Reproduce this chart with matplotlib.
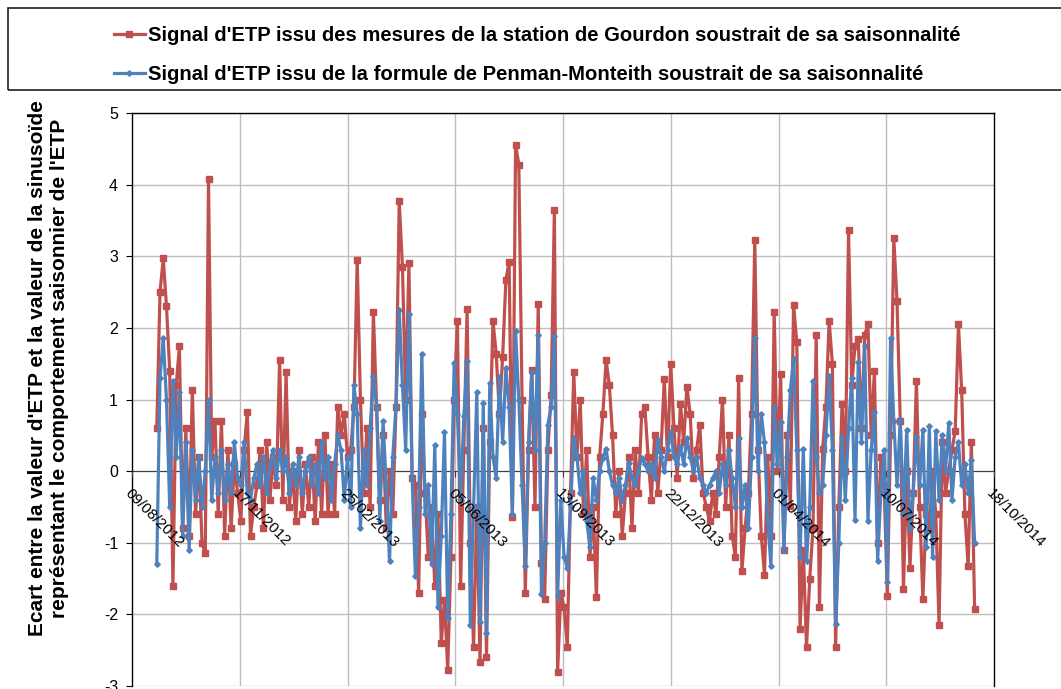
import matplotlib
matplotlib.use("Agg")
import matplotlib.pyplot as plt
from matplotlib.patches import Rectangle
import pandas as pd

# Daily ETP anomalies (seasonal sinusoid removed), sampled every 3 days
first_day = "2012-09-01"
step_days = 3

gourdon_station = [
    # 01/09/2012 -> 15/11/2012
    0.6, 2.5, 2.97, 2.3, 1.4, -1.6, 1.2, 1.74, -0.8, 0.6, -0.9, 1.13, -0.6,
    0.2, -1.0, -1.15, 4.08, 0.2, 0.7, -0.6, 0.7, -0.9, 0.3, -0.8, 0.1, -0.3,
    # 18/11/2012 -> 25/02/2013
    -0.7, 0.3, 0.82, -0.9, -0.5, -0.2, 0.3, -0.8, 0.4, -0.4, 0.2, -0.2, 1.55,
    -0.4, 1.38, -0.5, 0.0, -0.7, 0.3, -0.6, 0.1, -0.5, 0.2, -0.7, 0.4, -0.6,
    0.5, -0.6, 0.1, -0.6, 0.9, 0.5, 0.8, 0.2,
    # 28/02/2013 -> 04/06/2013
    0.3, 0.9, 2.95, 1.0, -0.3, 0.6, -0.5, 2.22, 0.9, -0.4, 0.5, -0.8, 0.0,
    -0.6, 0.9, 3.77, 2.85, 1.0, 2.9, -0.1, -0.2, -1.7, 0.8, -0.3, -1.2, -0.5,
    -1.6, -0.6, -2.4, -1.8, -2.77, -1.2, 1.0,
    # 07/06/2013 -> 11/09/2013
    2.1, -1.6, 0.3, 2.26, -1.0, -2.46, -0.5, -2.67, 0.6, -2.6, 0.4, 2.1, 1.64,
    0.8, 1.6, 2.67, 2.92, -0.64, 4.56, 4.28, 1.0, -1.7, 0.3, 1.41, -0.5, 2.33,
    -1.28, -1.78, 0.3, 1.06, 3.65, -2.8, -1.7,
    # 14/09/2013 -> 19/12/2013
    -1.9, -2.46, -0.3, 1.38, 0.2, 1.0, -0.6, 0.3, -1.2, -0.5, -1.76, 0.2, 0.8,
    1.55, 1.2, 0.5, -0.6, 0.0, -0.9, -0.3, 0.2, -0.8, 0.3, -0.3, 0.8, 0.89,
    0.2, -0.4, 0.5, -0.3, 0.3, 1.28, 0.2,
    # 22/12/2013 -> 28/03/2014
    1.5, 0.6, -0.1, 0.94, 0.4, 1.18, 0.8, -0.1, 0.3, 0.65, -0.3, -0.5, -0.7,
    -0.3, -0.6, 0.2, 1.0, -0.5, 0.5, -0.9, -1.2, 1.3, -1.4, -0.8, -0.3, 0.8,
    3.22, 0.3, -0.9, -1.45, 0.2, -0.9, 2.22,
    # 31/03/2014 -> 05/07/2014
    0.0, 1.35, -1.1, 0.5, -0.48, 2.32, 1.8, -2.2, -1.1, -2.46, -1.5, -0.8, 1.9,
    -1.9, 0.31, 0.9, 2.1, 1.5, -2.46, -0.5, 0.94, 0.0, 3.36, 1.2, 1.75, 1.85,
    0.6, 1.9, 2.05, 0.5, 1.4, -1.0, 0.2,
    # 08/07/2014 -> 30/09/2014
    -0.2, -1.74, 0.5, 3.26, 2.37, 0.7, -1.64, 0.0, -1.35, -0.3, 1.26, -0.5,
    -1.79, -0.6, -0.8, 0.0, -0.6, -2.15, 0.4, -0.3, 0.0, 0.3, 0.56, 2.05, 1.13,
    -0.6, -1.33, 0.41, -1.92,
]

penman_monteith = [
    # 01/09/2012 -> 15/11/2012
    -1.3, 1.3, 1.86, 1.0, -0.5, 1.26, 0.2, 1.1, -0.9, 0.4, -1.1, 0.3, -0.4,
    0.2, -0.5, 0.0, 1.0, -0.4, 0.2, -0.3, 0.3, -0.4, 0.1, -0.3, 0.4, -0.1,
    # 18/11/2012 -> 25/02/2013
    -0.2, 0.4, -0.3, -0.4, -0.1, 0.1, -0.2, 0.2, -0.3, 0.1, 0.3, -0.1, 0.3,
    0.0, 0.2, -0.3, 0.1, -0.2, 0.2, -0.3, 0.0, 0.2, -0.2, 0.1, -0.3, 0.4,
    -0.1, 0.2, -0.4, 0.1, 0.5, 0.3, -0.4, 0.2,
    # 28/02/2013 -> 04/06/2013
    -0.5, 1.2, 0.8, -0.8, 0.3, -0.2, 0.6, 1.33, 0.9, -0.7, 0.7, -0.2, -1.26,
    0.2, 0.9, 2.25, 1.2, 0.3, 2.2, -0.1, -1.47, -0.5, 1.64, -0.6, -0.2, -1.3,
    0.36, -1.9, -0.9, 0.54, -2.05, -0.6, 1.51,
    # 07/06/2013 -> 11/09/2013
    0.8, -0.4, 0.77, 1.54, -2.15, -0.5, 1.1, -2.1, 0.95, -2.26, 1.23, 0.2,
    -0.1, 1.31, 0.4, 1.44, 0.9, -0.6, 1.95, 1.0, -0.2, -1.33, 0.4, 1.38, 0.3,
    1.9, -1.72, -1.0, 0.65, 0.9, 1.88, -1.74, -0.41,
    # 14/09/2013 -> 19/12/2013
    -1.2, -1.35, -0.5, 0.46, 0.2, -0.3, 0.0, -0.7, -1.06, -0.1, -0.4, 0.0,
    0.19, 0.31, 0.0, -0.2, -0.3, -0.1, -0.4, -0.2, 0.12, -0.1, -0.2, 0.0, 0.19,
    0.1, 0.0, 0.1, -0.1, 0.43, 0.2, 0.0, 0.3,
    # 22/12/2013 -> 28/03/2014
    0.55, 0.2, 0.1, 0.34, 0.1, 0.46, 0.2, 0.0, 0.2, -0.1, -0.2, -0.3, -0.2,
    -0.1, 0.0, -0.3, 0.1, -0.2, 0.3, -0.1, -0.5, 0.46, -0.5, -0.2, -0.8, 0.2,
    1.86, 0.0, 0.8, 0.4, -0.7, -1.33, 0.9,
    # 31/03/2014 -> 05/07/2014
    0.1, 0.68, -1.1, 0.2, 1.13, 1.57, 0.3, -1.2, 0.31, -1.26, -0.5, 1.26, 0.2,
    -0.3, -0.2, 0.5, 1.33, 0.3, -2.13, -1.0, 0.48, -0.4, 0.6, 1.3, -0.68, 1.52,
    0.4, 1.74, -0.7, 0.3, 0.82, -1.26, -0.3,
    # 08/07/2014 -> 30/09/2014
    0.3, -1.55, 1.86, 0.7, -0.2, 0.72, -0.6, 0.58, -0.8, -0.3, 0.48, -0.2,
    0.58, -1.06, 0.63, -1.2, 0.56, -0.4, 0.5, 0.0, 0.67, -0.4, 0.2, 0.4, -0.2,
    0.1, -0.3, 0.15, -1.0,
]

series_labels = [
    "Signal d'ETP issu des mesures de la station de Gourdon soustrait de sa saisonnalité",
    "Signal d'ETP issu de la formule de Penman-Monteith soustrait de sa saisonnalité",
]

x_tick_labels = ["09/08/2012", "17/11/2012", "25/02/2013", "05/06/2013",
                 "13/09/2013", "22/12/2013", "01/04/2014", "10/07/2014",
                 "18/10/2014"]
y_ticks = [-3, -2, -1, 0, 1, 2, 3, 4, 5]

y_label = ("Ecart entre la valeur d'ETP et la valeur de la sinusoïde\n"
           "représentant le comportement saisonnier de l'ETP")

RED = "#C0504D"
BLUE = "#4F81BD"
GRID = "#BEBEBE"
FONT = "Liberation Sans"

W, H = 1061, 689
fig = plt.figure(figsize=(W / 100, H / 100), dpi=100)
ax = fig.add_axes([132 / W, 3 / H, 862 / W, 573 / H])

dates_red = pd.date_range(first_day, periods=len(gourdon_station), freq=f"{step_days}D")
dates_blue = pd.date_range(first_day, periods=len(penman_monteith), freq=f"{step_days}D")

l1, = ax.plot(dates_red, gourdon_station, color=RED, lw=2.3, marker="s",
              ms=3.8, mec=RED, mfc=RED, label=series_labels[0], zorder=3)
l2, = ax.plot(dates_blue, penman_monteith, color=BLUE, lw=2.3, marker="D",
              ms=2.8, mec=BLUE, mfc=BLUE, label=series_labels[1], zorder=4)

tick_dates = pd.to_datetime(x_tick_labels, format="%d/%m/%Y")
ax.set_xlim(tick_dates[0], tick_dates[-1])
ax.set_ylim(-3, 5)

# Horizontal axis crosses at zero (moving the spine resets the ticks,
# so it comes before any tick styling)
ax.spines["bottom"].set_position(("data", 0))
ax.spines["bottom"].set_color("#404040")
ax.spines["bottom"].set_zorder(2)
for side in ("left", "top", "right"):
    ax.spines[side].set_color("#000000")
    ax.spines[side].set_linewidth(1.0)

ax.tick_params(axis="x", direction="out", length=4, color="#404040", pad=7)
ax.tick_params(axis="y", direction="out", length=4, color="#000000", pad=6)

ax.set_xticks(tick_dates)
ax.set_xticklabels(x_tick_labels, fontsize=11, family=FONT, rotation=-45,
                   rotation_mode="anchor", ha="left", va="top")
ax.set_yticks(y_ticks)
ax.set_yticklabels([str(v) for v in y_ticks], fontsize=11.5, family=FONT)

# Gridlines behind the series, date labels drawn over them
ax.grid(True, axis="y", color=GRID, lw=1.0)
ax.yaxis.set_zorder(0.5)
for d in tick_dates[1:-1]:
    ax.axvline(d, color=GRID, lw=1.0, zorder=0.6)
ax.xaxis.set_zorder(5)

fig.text(49 / W, 1 - 368 / H, y_label, rotation=90, ha="center", va="center",
         fontsize=15, fontweight="bold", family=FONT, linespacing=1.2,
         multialignment="center")

# Legend box across the top
fig.patches.append(Rectangle((8 / W, 1 - 90 / H), 1.05, 82 / H,
                             transform=fig.transFigure, fill=False,
                             edgecolor="#202020", lw=1.2))
fig.legend(handles=[l1, l2], loc="upper left",
           bbox_to_anchor=(106 / W, 1 - 18 / H), frameon=False,
           prop={"family": FONT, "weight": "bold", "size": 14.6},
           handlelength=1.5, handletextpad=0.15, labelspacing=1.0,
           numpoints=1, borderaxespad=0)

fig.savefig("out.png", dpi=100)
